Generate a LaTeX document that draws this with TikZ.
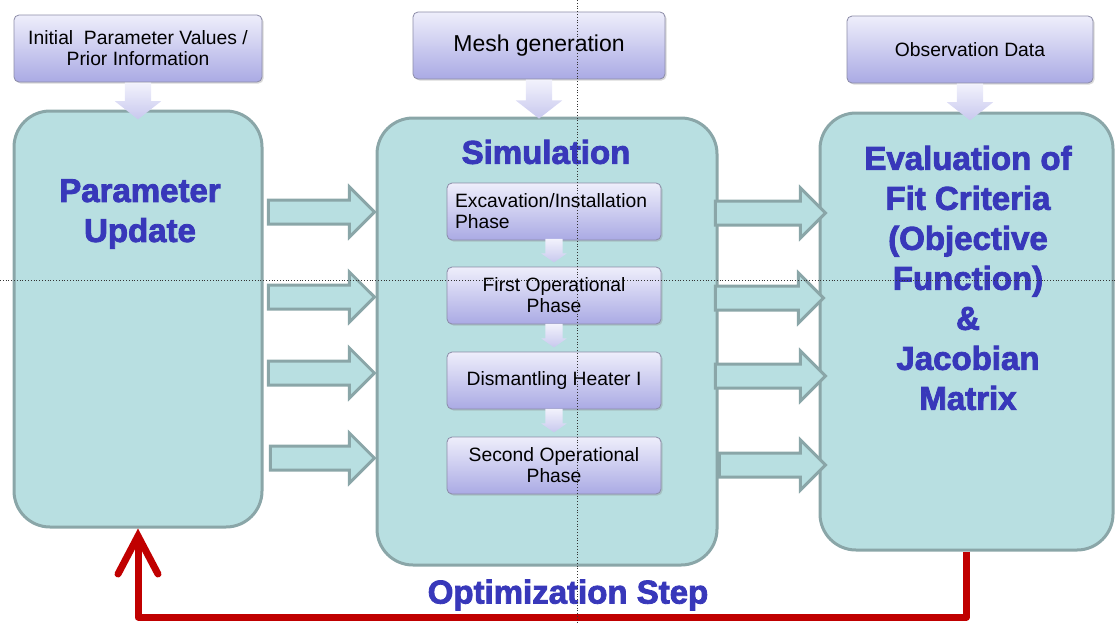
\documentclass[tikz,border=0pt]{standalone}
\usepackage{fontspec}
\setmainfont{Liberation Sans}
\newfontfamily\titlefont[FakeBold=2.5]{Liberation Sans Bold}
\usetikzlibrary{shapes.arrows,arrows.meta,shadows,calc}
\definecolor{panel}{RGB}{184,223,225}
\definecolor{panelline}{RGB}{138,166,168}
\definecolor{lavtop}{RGB}{238,238,251}
\definecolor{lavbot}{RGB}{170,170,228}
\definecolor{lavline}{RGB}{140,140,168}
\definecolor{feedtop}{RGB}{242,242,252}
\definecolor{feedbot}{RGB}{200,200,238}
\definecolor{titleblue}{RGB}{56,56,186}
\definecolor{loopred}{RGB}{192,0,0}

\begin{document}
\begin{tikzpicture}[x=1pt,y=-1pt,
  panelbox/.style={draw=panelline, fill=panel, line width=3pt, rounded corners=36pt, inner sep=0pt},
  lavbox/.style={draw=lavline, line width=0.8pt, rounded corners=5pt,
    top color=lavtop, bottom color=lavbot,
    drop shadow={opacity=0.3, shadow xshift=1.5pt, shadow yshift=-1.5pt},
    font=\fontsize{19.3}{21}\selectfont, inner sep=0pt, align=center},
  feed/.style={single arrow, shape border rotate=270, draw=none,
    top color=feedtop, bottom color=feedbot},
  bigfeed/.style={feed, inner sep=13pt, single arrow head extend=10pt,
    single arrow tip angle=104, minimum height=31pt},
  smallfeed/.style={feed, inner sep=8.5pt, single arrow head extend=4pt,
    single arrow tip angle=110, minimum height=23pt},
  flow/.style={single arrow, draw=panelline, fill=panel, line width=3pt,
    inner xsep=0pt, inner ysep=10.5pt,
    single arrow head extend=13pt, single arrow tip angle=90,
    minimum height=106pt},
  titletext/.style={font=\fontsize{33}{40}\selectfont\titlefont, text=titleblue, align=center},
  loop/.style={draw=loopred, line width=7pt, line join=round,
    -{Straight Barb[length=38pt, width=40pt, line cap=round]}},
  guide/.style={draw=black!80, line width=0.8pt, dotted}
]
\useasboundingbox (0,0) rectangle (1115,624);

% main panels
\node[panelbox, minimum width=248pt, minimum height=416pt] (upd) at (138,319) {};
\node[panelbox, minimum width=340pt, minimum height=447pt] (sim) at (547,341.5) {};
\node[panelbox, minimum width=293pt, minimum height=437pt] (eval) at (966.5,331.5) {};

% inputs on top
\node[lavbox, minimum width=248pt, minimum height=67pt] (init) at (138,48.5)
  {Initial\ \ Parameter Values /\\Prior Information};
\node[lavbox, minimum width=252pt, minimum height=67pt, font=\fontsize{23}{25}\selectfont] (mesh) at (539,45.5)
  {Mesh generation};
\node[lavbox, minimum width=246pt, minimum height=67pt] (obs) at (970,49.5)
  {Observation Data};

\node[bigfeed, anchor=tail] (f1) at (init.south) {};
\node[bigfeed, anchor=tail, minimum height=39pt] (f2) at (mesh.south) {};
\node[bigfeed, anchor=tail, minimum height=30pt] (f3) at (obs.south) {};

% simulation phases
\node[lavbox, minimum width=214pt, minimum height=57pt, text width=198pt, align=left] (p1) at (554,211.5)
  {Excavation/Installation\\Phase};
\node[lavbox, minimum width=214pt, minimum height=57pt] (p2) at (554,295.5)
  {First Operational\\Phase};
\node[lavbox, minimum width=214pt, minimum height=57pt] (p3) at (554,380.5)
  {Dismantling Heater I};
\node[lavbox, minimum width=214pt, minimum height=57pt] (p4) at (554,465.5)
  {Second Operational\\Phase};

\node[smallfeed, anchor=tip] (s1) at ($(p2.north)+(0,-4)$) {};
\node[smallfeed, anchor=tip] (s2) at ($(p3.north)+(0,-4)$) {};
\node[smallfeed, anchor=tip] (s3) at ($(p4.north)+(0,-4)$) {};

% flow from parameter update into the simulation
\coordinate (ra) at (0,212);
\coordinate (rb) at (0,297);
\coordinate (rc) at (0,373);
\coordinate (rd) at (0,458);
\node[flow, anchor=tip] (a1) at ($(sim.west |- ra)+(1,0)$) {};
\node[flow, anchor=tip] (a2) at ($(sim.west |- rb)+(1,0)$) {};
\node[flow, anchor=tip] (a3) at ($(sim.west |- rc)+(1,0)$) {};
\node[flow, anchor=tip, minimum height=104pt] (a4) at ($(sim.west |- rd)+(1,0)$) {};

% flow from the simulation into the evaluation
\coordinate (qa) at (0,213);
\coordinate (qb) at (0,298);
\coordinate (qc) at (0,376);
\coordinate (qd) at (0,465);
\node[flow, anchor=tip, minimum height=110pt] (b1) at ($(eval.west |- qa)+(9,0)$) {};
\node[flow, anchor=tip, minimum height=108pt] (b2) at ($(eval.west |- qb)+(7,0)$) {};
\node[flow, anchor=tip, minimum height=110pt] (b3) at ($(eval.west |- qc)+(9,0)$) {};
\node[flow, anchor=tip, minimum height=106pt] (b4) at ($(eval.west |- qd)+(9,0)$) {};

% panel titles
\node[titletext] (updt) at (140,214) {Parameter\\Update};
\node[titletext] (simt) at (546,152) {Simulation};
\node[titletext] (evalt) at (968,278) {Evaluation of\\Fit Criteria\\(Objective\\Function)\\\&\\Jacobian\\Matrix};

% optimisation loop back to the parameter update
\coordinate (base) at (0,617);
\draw[loop] (eval.south) -- (eval.south |- base) -- (upd.south |- base) -- (upd.south);
\node[titletext] (optt) at (568,595) {Optimization Step};

% dotted guide lines
\coordinate (gtop) at (577,0);
\coordinate (gbot) at (577,624);
\coordinate (gleft) at (0,280);
\coordinate (gright) at (1115,280);
\draw[guide] (gtop) -- (gbot);
\draw[guide] (gleft) -- (gright);
\end{tikzpicture}
\end{document}
